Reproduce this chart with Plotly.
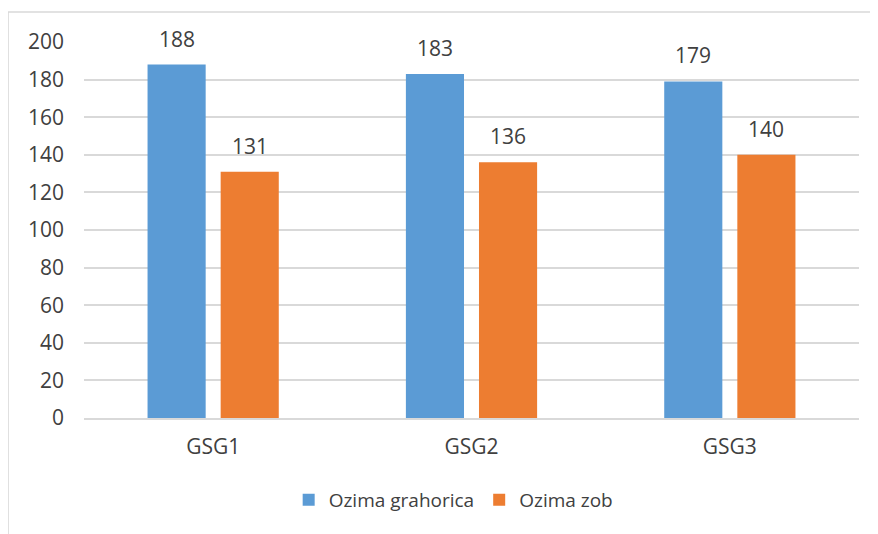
import plotly.graph_objects as go

categories = ["GSG1", "GSG2", "GSG3"]
series_names = ["Ozima grahorica", "Ozima zob"]
grahorica = [188, 183, 179]
zob = [131, 136, 140]
colors = ["#5B9BD5", "#ED7D31"]
y_ticks = [0, 20, 40, 60, 80, 100, 120, 140, 160, 180, 200]

font_family = "Open Sans"
text_color = "#404040"
fsize = 21
legend_size = 19

fig = go.Figure()
for name, vals, col in zip(series_names, [grahorica, zob], colors):
    fig.add_trace(go.Bar(x=categories, y=vals, name=name, marker=dict(color=col, line=dict(width=0))))

# data labels
slot_shift = 36.5
for vals, sh in zip([grahorica, zob], [-slot_shift, slot_shift]):
    for c, v in zip(categories, vals):
        fig.add_annotation(x=c, y=v, xref="x", yref="y", text=str(v), showarrow=False,
                           xshift=sh, yshift=26, yanchor="middle",
                           font=dict(family=font_family, size=fsize, color=text_color))

fig.add_shape(type="rect", xref="paper", yref="paper", x0=-0.098, x1=1.2, y0=-0.6, y1=1.0798,
              line=dict(color="#D9D9D9", width=1.5), fillcolor="rgba(0,0,0,0)", layer="below")

fig.update_layout(
    width=870, height=526,
    margin=dict(l=76, r=19, t=34, b=116),
    paper_bgcolor="white", plot_bgcolor="white",
    barmode="group", bargap=0.434, bargroupgap=0.205,
    font=dict(family=font_family, size=fsize, color=text_color),
    showlegend=True,
    legend=dict(orientation="h", x=0.477, xanchor="center", y=-0.218, yanchor="middle",
                font=dict(family=font_family, size=legend_size, color=text_color),
                itemwidth=30, tracegroupgap=0),
    xaxis=dict(showgrid=False, showline=True, linecolor="#D9D9D9", linewidth=1.5,
               ticks="", ticklabelstandoff=9, tickfont=dict(size=fsize, color=text_color)),
    yaxis=dict(range=[0, 200], tickvals=y_ticks, showgrid=True, gridcolor="#D9D9D9", gridwidth=1.5,
               zeroline=False, showline=False, ticks="", ticklabelstandoff=19,
               tickfont=dict(size=fsize, color=text_color)),
)

fig.write_html("out.html")
